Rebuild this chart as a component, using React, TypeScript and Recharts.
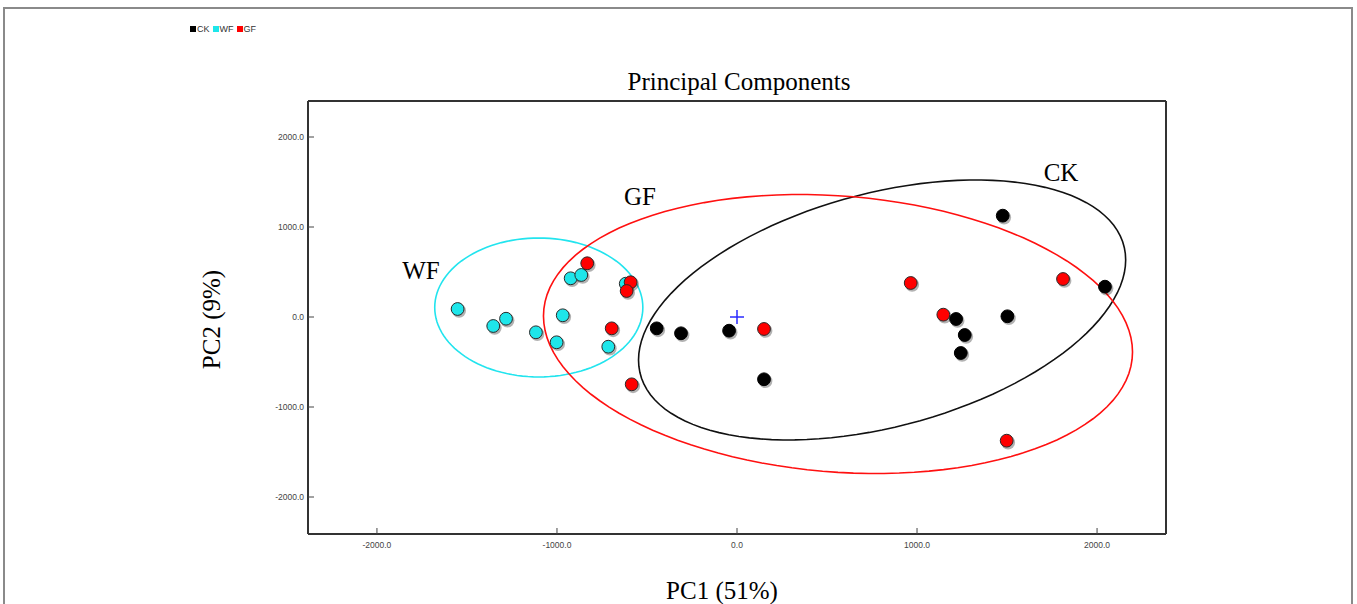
import React from 'react';
import { ScatterChart, Scatter, XAxis, YAxis, Legend, ReferenceDot, Label } from 'recharts';

// ---- data ----
const GROUPS = ['CK', 'WF', 'GF'];
const GROUP_COLORS = ['#000000', '#1ee6ea', '#ff0000'];

const CK_X = [-446, -311, -44, 150, 1476, 2044, 1217, 1265, 1243, 1502];
const CK_Y = [-126, -181, -152, -692, 1126, 337, -22, -200, -400, 8];
const WF_X = [-1552, -1354, -1283, -1117, -968, -1002, -924, -865, -715, -618];
const WF_Y = [89, -100, -19, -170, 19, -281, 430, 467, -330, 370];
const GF_X = [-832, -591, -613, -696, -585, 150, 965, 1811, 1146, 1498];
const GF_Y = [597, 386, 289, -126, -748, -133, 378, 422, 26, -1374];

// confidence ellipses (CK, WF, GF): centre, conjugate semi-diameters
const ELLIPSE_CX = [806, -1101, 561];
const ELLIPSE_CY = [78, 106, -189];
const ELLIPSE_UX = [1353, 578, 1636];
const ELLIPSE_UY = [556, 0, -200];
const ELLIPSE_VY = [1333, 772, 1537];
const ELLIPSE_COLORS = ['#111111', '#22e4ee', '#ff1010'];

const X_TICKS = [-2000, -1000, 0, 1000, 2000];
const Y_TICKS = [-2000, -1000, 0, 1000, 2000];
const X_DOMAIN = [-2383, 2383];
const Y_DOMAIN = [-2411, 2400];

const GROUP_LABEL_X = [1800, -1756, -539];
const GROUP_LABEL_Y = [1611, 522, 1344];

const CENTER_X = [0];
const CENTER_Y = [0];

const toPoints = (xs: number[], ys: number[]) => xs.map((x, i) => ({ x, y: ys[i] }));

const ellipsePoints = (i: number) => {
  const pts: { x: number; y: number }[] = [];
  const n = 120;
  for (let k = 0; k <= n; k++) {
    const t = (k / n) * 2 * Math.PI;
    pts.push({
      x: ELLIPSE_CX[i] + ELLIPSE_UX[i] * Math.cos(t),
      y: ELLIPSE_CY[i] + ELLIPSE_UY[i] * Math.cos(t) + ELLIPSE_VY[i] * Math.sin(t),
    });
  }
  return pts;
};

const SERIF = "'Liberation Serif', 'Times New Roman', serif";
const SANS = "'Liberation Sans', Arial, sans-serif";

const makeDot = (fill: string, stroke: string) => (props: any) => {
  const { cx, cy } = props;
  if (cx == null || cy == null) return <g />;
  return (
    <g>
      <circle cx={cx + 1.4} cy={cy + 1.8} r={7} fill="#000" opacity={0.3} />
      <circle cx={cx} cy={cy} r={6.4} fill={fill} stroke={stroke} strokeWidth={1} />
    </g>
  );
};

const plusShape = (props: any) => {
  const { cx, cy } = props;
  if (cx == null) return <g />;
  return (
    <g stroke="#2a2aff" strokeWidth={1.5}>
      <line x1={cx - 7} x2={cx + 7} y1={cy} y2={cy} />
      <line x1={cx} x2={cx} y1={cy - 7} y2={cy + 7} />
    </g>
  );
};

const renderLegend = () => (
  <div style={{ display: 'flex', fontFamily: SANS, fontSize: 9, color: '#333', lineHeight: '10px' }}>
    {GROUPS.map((g, i) => (
      <span key={g} style={{ display: 'inline-flex', alignItems: 'center', marginRight: 3 }}>
        <span style={{ display: 'inline-block', width: 6, height: 6, background: GROUP_COLORS[i], marginRight: 1 }} />
        {g}
      </span>
    ))}
  </div>
);

const groupLabelShape = (text: string) => (props: any) => {
  const { cx, cy } = props;
  return (
    <text x={cx} y={cy + 8.5} textAnchor="middle" fontFamily={SERIF} fontSize={25} fill="#000">
      {text}
    </text>
  );
};

const fmt = (v: number) => v.toFixed(1);

export default function App() {
  const axisLine = { stroke: '#333', strokeWidth: 2 };
  const tickLine = { stroke: '#444', strokeWidth: 1 };
  const tickStyle = { fontSize: 8.5, fill: '#444', fontFamily: SANS };
  return (
    <div style={{ position: 'absolute', left: 0, top: 0, width: 1357, height: 604, background: '#fff', overflow: 'hidden' }}>
      <div
        style={{
          position: 'absolute',
          left: 3,
          top: 7,
          width: 1350,
          height: 620,
          border: '2px solid #8a8a8a',
          borderBottom: 'none',
          boxSizing: 'border-box',
        }}
      />
      <div style={{ position: 'absolute', left: 0, top: 0 }}>
        <ScatterChart width={1357} height={604} margin={{ top: 91, right: 181, bottom: 40, left: 248 }}>
          <XAxis
            xAxisId={0}
            type="number"
            dataKey="x"
            domain={X_DOMAIN}
            ticks={X_TICKS}
            interval={0}
            allowDataOverflow
            tickFormatter={fmt}
            height={30}
            tickSize={-6}
            tickMargin={14}
            axisLine={axisLine}
            tickLine={tickLine}
            tick={tickStyle}
          >
            <Label
              content={(p: any) => {
                const vb = p.viewBox || { x: 308, y: 534, width: 858, height: 30 };
                return (
                  <text x={vb.x + vb.width / 2 - 15} y={vb.y + vb.height + 35} textAnchor="middle" fontFamily={SERIF} fontSize={25} fill="#000">
                    PC1 (51%)
                  </text>
                );
              }}
            />
          </XAxis>
          <XAxis
            xAxisId="top"
            orientation="top"
            type="number"
            dataKey="x"
            domain={X_DOMAIN}
            ticks={X_TICKS}
            interval={0}
            allowDataOverflow
            height={10}
            tickSize={-6}
            axisLine={axisLine}
            tickLine={tickLine}
            tick={false}
          >
            <Label
              content={(p: any) => {
                const vb = p.viewBox || { x: 308, y: 91, width: 858, height: 10 };
                return (
                  <text x={vb.x + vb.width / 2 + 2} y={vb.y - 1} textAnchor="middle" fontFamily={SERIF} fontSize={25} fill="#000">
                    Principal Components
                  </text>
                );
              }}
            />
          </XAxis>
          <YAxis
            yAxisId={0}
            type="number"
            dataKey="y"
            domain={Y_DOMAIN}
            ticks={Y_TICKS}
            interval={0}
            allowDataOverflow
            tickFormatter={fmt}
            width={60}
            tickSize={-6}
            tickMargin={10}
            axisLine={axisLine}
            tickLine={tickLine}
            tick={tickStyle}
          >
            <Label
              content={(p: any) => {
                const vb = p.viewBox || { x: 248, y: 101, width: 60, height: 433 };
                const cx = vb.x - 28;
                const cy = vb.y + vb.height / 2 + 2;
                return (
                  <text x={cx} y={cy} transform={`rotate(-90, ${cx}, ${cy})`} textAnchor="middle" fontFamily={SERIF} fontSize={25} fill="#000">
                    PC2 (9%)
                  </text>
                );
              }}
            />
          </YAxis>
          <YAxis
            yAxisId="right"
            orientation="right"
            type="number"
            dataKey="y"
            domain={Y_DOMAIN}
            ticks={Y_TICKS}
            interval={0}
            allowDataOverflow
            width={10}
            tickSize={-6}
            axisLine={axisLine}
            tickLine={tickLine}
            tick={false}
          />
          <Legend
            layout="horizontal"
            verticalAlign="middle"
            align="center"
            content={renderLegend}
            wrapperStyle={{ left: 190, top: 24, width: 'auto' }}
          />

          {GROUPS.map((g, i) => (
            <Scatter
              key={'ell-' + g}
              name={'ellipse ' + g}
              data={ellipsePoints(i)}
              line={{ stroke: ELLIPSE_COLORS[i], strokeWidth: 1.6 }}
              lineJointType="linear"
              shape={() => <g />}
              legendType="none"
              isAnimationActive={false}
            />
          ))}

          <Scatter name="WF" data={toPoints(WF_X, WF_Y)} fill={GROUP_COLORS[1]} shape={makeDot(GROUP_COLORS[1], '#2a2a2a')} isAnimationActive={false} />
          <Scatter name="GF" data={toPoints(GF_X, GF_Y)} fill={GROUP_COLORS[2]} shape={makeDot(GROUP_COLORS[2], '#2a2a2a')} isAnimationActive={false} />
          <Scatter name="CK" data={toPoints(CK_X, CK_Y)} fill={GROUP_COLORS[0]} shape={makeDot(GROUP_COLORS[0], '#000')} isAnimationActive={false} />
          <Scatter name="centre" data={toPoints(CENTER_X, CENTER_Y)} shape={plusShape} legendType="none" isAnimationActive={false} />

          {GROUPS.map((g, i) => (
            <ReferenceDot key={'lab-' + g} x={GROUP_LABEL_X[i]} y={GROUP_LABEL_Y[i]} r={0} shape={groupLabelShape(g)} />
          ))}
        </ScatterChart>
      </div>
    </div>
  );
}
